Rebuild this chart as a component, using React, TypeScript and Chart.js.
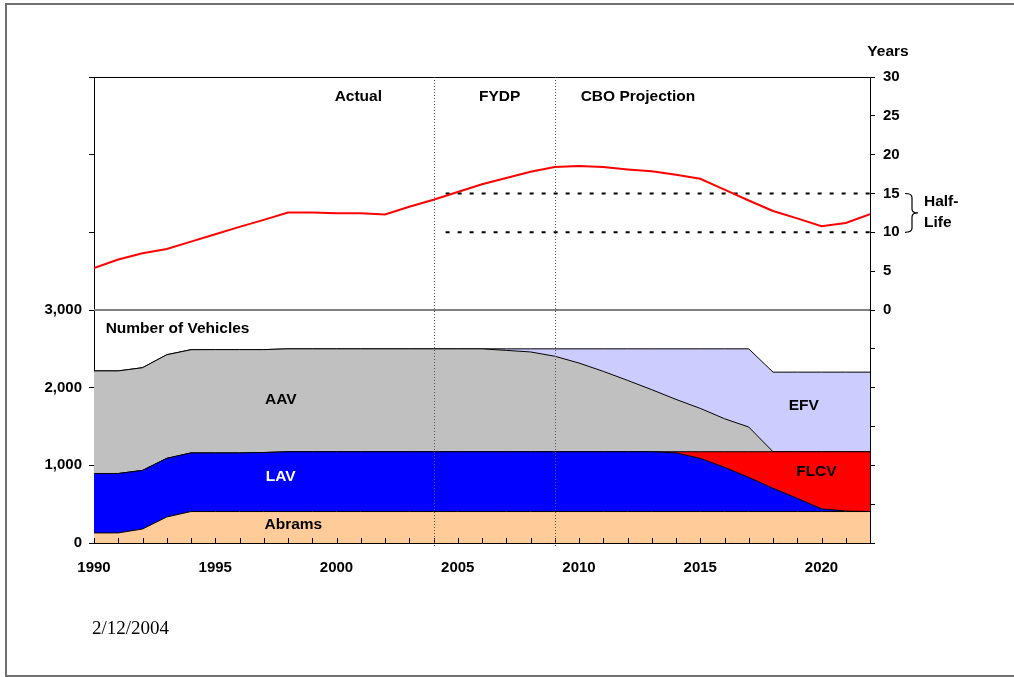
import React, { useEffect, useRef } from 'react';
import { Chart, registerables } from 'chart.js';

Chart.register(...registerables);

// ---------- data ----------
const YEARS = [
  1990, 1991, 1992, 1993, 1994, 1995, 1996, 1997, 1998, 1999, 2000,
  2001, 2002, 2003, 2004, 2005, 2006, 2007, 2008, 2009, 2010, 2011,
  2012, 2013, 2014, 2015, 2016, 2017, 2018, 2019, 2020, 2021, 2022,
];

// average age of the fleet, years (top panel, right axis)
const AVERAGE_AGE = [
  5.4, 6.5, 7.3, 7.85, 8.8, 9.75, 10.7, 11.6, 12.55, 12.55, 12.45,
  12.45, 12.3, 13.3, 14.2, 15.2, 16.2, 17.0, 17.8, 18.4, 18.55, 18.4,
  18.1, 17.85, 17.4, 16.9, 15.5, 14.1, 12.75, 11.8, 10.8, 11.2, 12.35,
];

// number of vehicles (bottom panel, stacked)
const ABRAMS = [
  130, 130, 180, 335, 405, 405, 405, 405, 405, 405, 405,
  405, 405, 405, 405, 405, 405, 405, 405, 405, 405, 405,
  405, 405, 405, 405, 405, 405, 405, 405, 405, 405, 405,
];
const LAV = [
  765, 765, 755, 755, 755, 755, 755, 760, 770, 770, 770,
  770, 770, 770, 770, 770, 770, 770, 770, 770, 770, 770,
  770, 770, 755, 685, 570, 440, 300, 170, 35, 7, 0,
];
const FLCV = [
  0, 0, 0, 0, 0, 0, 0, 0, 0, 0, 0,
  0, 0, 0, 0, 0, 0, 0, 0, 0, 0, 0,
  0, 0, 15, 85, 200, 330, 470, 600, 735, 763, 770,
];
const AAV = [
  1321, 1321, 1322, 1334, 1329, 1330, 1330, 1325, 1325, 1325, 1325,
  1325, 1325, 1325, 1325, 1325, 1325, 1305, 1285, 1230, 1142, 1035,
  919, 799, 674, 558, 425, 318, 0, 0, 0, 0, 0,
];
const EFV = [
  0, 0, 0, 0, 0, 0, 0, 0, 0, 0, 0,
  0, 0, 0, 0, 0, 0, 20, 40, 95, 183, 290,
  406, 526, 651, 767, 900, 1007, 1025, 1025, 1025, 1025, 1025,
];

const VEHICLE_TICK_LABELS = [0, 1000, 2000, 3000];
const X_TICK_LABELS = [1990, 1995, 2000, 2005, 2010, 2015, 2020];
const PERIOD_BOUNDARIES = [2004, 2009];
const HALF_LIFE_BAND = [15, 10];
const HALF_LIFE_START = 2004.5;

// ---------- styling ----------
const FONT = '"Liberation Sans", Arial, Helvetica, sans-serif';
const SERIF = '"Liberation Serif", "Times New Roman", serif';
const BOLD_ANN = `bold 15.5px ${FONT}`;

type Ann = { text: string; x: number; v: number; axis: 'y' | 'y2'; color?: string; align?: CanvasTextAlign };
const ANNOTATIONS: Ann[] = [
  { text: 'Actual', x: 2000.9, v: 27.4, axis: 'y2' },
  { text: 'FYDP', x: 2006.73, v: 27.4, axis: 'y2' },
  { text: 'CBO Projection', x: 2012.43, v: 27.4, axis: 'y2' },
  { text: 'Number of Vehicles', x: 1990.48, v: 2759, axis: 'y', align: 'left' },
  { text: 'AAV', x: 1997.7, v: 1845, axis: 'y' },
  { text: 'LAV', x: 1997.7, v: 850, axis: 'y', color: '#FFFFFF' },
  { text: 'Abrams', x: 1998.22, v: 236, axis: 'y' },
  { text: 'EFV', x: 2019.27, v: 1772, axis: 'y' },
  { text: 'FLCV', x: 2019.79, v: 922, axis: 'y' },
];

const toXY = (arr: number[]) => YEARS.map((yr, i) => ({ x: yr, y: arr[i] }));

const overlayPlugin = {
  id: 'overlay',
  beforeDatasetsDraw(chart: any) {
    const { ctx, chartArea, scales } = chart;
    const { x, y2 } = scales;
    ctx.save();
    // half-life band dashed lines
    ctx.strokeStyle = '#000';
    ctx.lineWidth = 2;
    ctx.setLineDash([4, 8]);
    for (const v of HALF_LIFE_BAND) {
      const py = y2.getPixelForValue(v);
      ctx.beginPath();
      ctx.moveTo(x.getPixelForValue(HALF_LIFE_START), py);
      ctx.lineTo(chartArea.right, py);
      ctx.stroke();
    }
    ctx.restore();
  },
  afterDatasetsDraw(chart: any) {
    const { ctx, chartArea, scales } = chart;
    const { left, right, top, bottom } = chartArea;
    const { x, y, y2 } = scales;
    ctx.save();

    // top frame line of the upper panel
    ctx.strokeStyle = '#000';
    ctx.lineWidth = 1;
    ctx.beginPath();
    ctx.moveTo(left, Math.round(top) + 0.5);
    ctx.lineTo(right, Math.round(top) + 0.5);
    ctx.stroke();

    // divider between the panels
    const mid = y.getPixelForValue(3000);
    ctx.strokeStyle = '#808080';
    ctx.lineWidth = 2;
    ctx.beginPath();
    ctx.moveTo(left, mid);
    ctx.lineTo(right, mid);
    ctx.stroke();

    // inward x ticks
    ctx.strokeStyle = '#000';
    ctx.lineWidth = 1;
    for (const t of x.ticks) {
      const px = Math.round(x.getPixelForValue(t.value)) + 0.5;
      ctx.beginPath();
      ctx.moveTo(px, bottom);
      ctx.lineTo(px, bottom - 5);
      ctx.stroke();
    }

    // period boundaries (dotted)
    ctx.strokeStyle = '#555';
    ctx.lineWidth = 1;
    ctx.setLineDash([1, 2]);
    for (const yr of PERIOD_BOUNDARIES) {
      const px = Math.round(x.getPixelForValue(yr)) + 0.5;
      ctx.beginPath();
      ctx.moveTo(px, top);
      ctx.lineTo(px, bottom + 4);
      ctx.stroke();
    }
    ctx.setLineDash([]);

    // annotations
    ctx.font = BOLD_ANN;
    ctx.textBaseline = 'middle';
    for (const a of ANNOTATIONS) {
      const sc = a.axis === 'y' ? y : y2;
      ctx.fillStyle = a.color || '#000';
      ctx.textAlign = a.align || 'center';
      ctx.fillText(a.text, x.getPixelForValue(a.x), sc.getPixelForValue(a.v));
    }

    // axis title "Years"
    ctx.fillStyle = '#000';
    ctx.textAlign = 'center';
    ctx.fillText('Years', right + 18, top - 25);

    // half-life brace
    const yTop = y2.getPixelForValue(HALF_LIFE_BAND[0]);
    const yBot = y2.getPixelForValue(HALF_LIFE_BAND[1]);
    const yMid = (yTop + yBot) / 2;
    const bx0 = right + 35;
    const bx1 = right + 42;
    const tip = right + 48;
    ctx.strokeStyle = '#000';
    ctx.lineWidth = 1.2;
    ctx.beginPath();
    ctx.moveTo(bx0, yTop);
    ctx.quadraticCurveTo(bx1, yTop, bx1, yTop + 4);
    ctx.lineTo(bx1, yMid - 4);
    ctx.quadraticCurveTo(bx1, yMid, tip, yMid);
    ctx.quadraticCurveTo(bx1, yMid, bx1, yMid + 4);
    ctx.lineTo(bx1, yBot - 4);
    ctx.quadraticCurveTo(bx1, yBot, bx0, yBot);
    ctx.stroke();

    ctx.textAlign = 'left';
    ctx.fillText('Half-', right + 54, yTop + 8);
    ctx.fillText('Life', right + 54, yBot - 10);

    // date footer
    ctx.font = `19px ${SERIF}`;
    ctx.textBaseline = 'alphabetic';
    ctx.fillText('2/12/2004', 92, 634);

    ctx.restore();
  },
};

export default function App() {
  const ref = useRef<HTMLCanvasElement | null>(null);

  useEffect(() => {
    if (!ref.current) return;
    const area = (label: string, data: number[], color: string, fill: any) => ({
      label,
      data: toXY(data),
      yAxisID: 'y',
      backgroundColor: color,
      borderColor: '#000',
      borderWidth: 1,
      fill,
      pointRadius: 0,
      tension: 0,
    });
    const tickFont = { family: FONT, size: 15, weight: 'bold' as const };

    const chart = new Chart(ref.current, {
      type: 'line',
      data: {
        datasets: [
          area('Abrams', ABRAMS, '#FFCC99', 'origin'),
          area('LAV', LAV, '#0000FF', '-1'),
          area('FLCV', FLCV, '#FF0000', '-1'),
          area('AAV', AAV, '#C0C0C0', '-1'),
          area('EFV', EFV, '#CCCCFF', '-1'),
          {
            label: 'Average age',
            data: toXY(AVERAGE_AGE),
            yAxisID: 'y2',
            borderColor: '#FF0000',
            borderWidth: 2,
            fill: false,
            pointRadius: 0,
            tension: 0,
          } as any,
        ],
      },
      options: {
        animation: false,
        responsive: false,
        events: [],
        layout: { padding: { left: 0, top: 77, right: 84, bottom: 99 } },
        plugins: { legend: { display: false }, tooltip: { enabled: false } },
        scales: {
          x: {
            type: 'linear',
            position: 'bottom',
            min: 1990,
            max: 2022,
            ticks: {
              stepSize: 1,
              autoSkip: false,
              maxRotation: 0,
              padding: 16,
              color: '#000',
              font: tickFont,
              callback: (v: any) => (X_TICK_LABELS.includes(Number(v)) ? String(v) : ''),
            },
            grid: { display: true, drawOnChartArea: false, drawTicks: false },
            border: { display: true, color: '#000', width: 1 },
            afterFit: (s: any) => { s.height = 35; },
          },
          y: {
            type: 'linear',
            position: 'left',
            stacked: true,
            min: 0,
            max: 6000,
            ticks: {
              stepSize: 1000,
              padding: 7,
              color: '#000',
              font: tickFont,
              callback: (v: any) =>
                VEHICLE_TICK_LABELS.includes(Number(v)) ? Number(v).toLocaleString('en-US') : '',
            },
            grid: { display: true, drawOnChartArea: false, drawTicks: true, tickLength: 5, tickColor: '#000' },
            border: { display: true, color: '#000', width: 1 },
            afterFit: (s: any) => { s.width = 94; },
          },
          y2: {
            type: 'linear',
            position: 'right',
            min: -30,
            max: 30,
            ticks: {
              stepSize: 5,
              padding: 8,
              color: '#000',
              font: tickFont,
              callback: (v: any) => (Number(v) >= 0 ? String(v) : ''),
            },
            grid: { display: true, drawOnChartArea: false, drawTicks: true, tickLength: 5, tickColor: '#000' },
            border: { display: true, color: '#000', width: 1 },
            afterFit: (s: any) => { s.width = 60; },
          },
        },
      } as any,
      plugins: [overlayPlugin],
    });
    return () => chart.destroy();
  }, []);

  return (
    <div style={{ position: 'absolute', left: 0, top: 0, width: 1014, height: 677, background: '#fff', overflow: 'hidden' }}>
      <div
        style={{
          position: 'absolute',
          left: 5,
          top: 3,
          width: 1009,
          height: 674,
          boxSizing: 'border-box',
          borderTop: '2px solid #707070',
          borderLeft: '2px solid #707070',
          borderBottom: '2px solid #707070',
        }}
      />
      <canvas ref={ref} width={1014} height={677} style={{ position: 'absolute', left: 0, top: 0 }} />
    </div>
  );
}
